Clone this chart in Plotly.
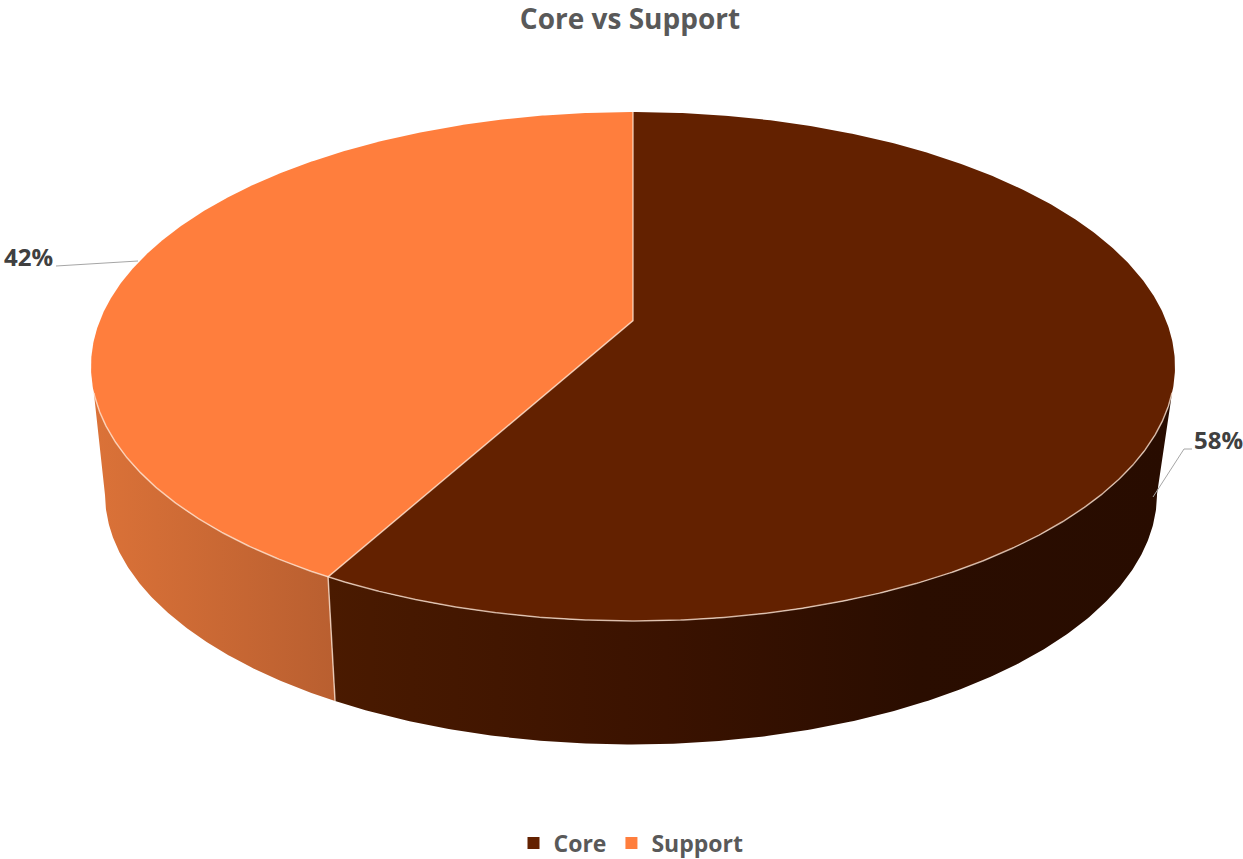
import numpy as np
import plotly.graph_objects as go

categories = ["Core", "Support"]
values = [58, 42]
chart_title = "Core vs Support"

W, H = 1243, 859
BOTTOM_BAND = 60  # strip under the plot area that holds the legend
FONT = "Open Sans"
TOP = dict(cx=633.0, cy=366.5, rx=542.0, ry=254.5)
BOT = dict(cx=631.0, cy=494.0, rx=526.0, ry=250.5)
APEX = -0.18  # perspective shift of the pie centre on the top face
TOP_CUT, BOT_CUT = 0.10, 0.0  # where the wall silhouette leaves each ellipse

FACE = {"Core": "#632100", "Support": "#FF7E3D"}
WALL = {
    "Core": [[0, "#4A1A00"], [0.4, "#3A1200"], [0.7, "#2A0D00"], [1, "#280C00"]],
    "Support": [[0, "#DB7238"], [1, "#B95F30"]],
}
EDGE = "rgba(255,232,215,0.72)"


def project(theta, e):
    """Angle round the pie (clockwise from the top) to a point on an ellipse."""
    u, v = np.sin(theta), -np.cos(theta)
    d = 1 + APEX * v
    xn = u * np.sqrt(1 - APEX**2) / d
    yn = (v + APEX) / d
    return e["cx"] + xn * e["rx"], e["cy"] + yn * e["ry"], yn


shares = np.array(values, dtype=float) / sum(values)
cuts = np.concatenate([[0], np.cumsum(shares)]) * 2 * np.pi
centre_x, centre_y = TOP["cx"], TOP["cy"] + APEX * TOP["ry"]

fig = go.Figure()

for i, name in enumerate(categories):
    th = np.linspace(cuts[i], cuts[i + 1], 500)
    tx, ty, tn = project(th, TOP)
    bx, by, bn = project(th, BOT)
    tm, bm = tn >= TOP_CUT, bn >= BOT_CUT
    wx = np.concatenate([tx[tm], bx[bm][::-1]])
    wy = np.concatenate([ty[tm], by[bm][::-1]])
    fig.add_trace(go.Scatter(
        x=wx, y=wy, mode="lines", fill="toself", line=dict(width=0),
        fillgradient=dict(type="horizontal", colorscale=WALL[name],
                          start=float(wx.min()), stop=float(wx.max())),
        hoverinfo="skip", showlegend=False))

for i, name in enumerate(categories):
    th = np.linspace(cuts[i], cuts[i + 1], 500)
    tx, ty, _ = project(th, TOP)
    fig.add_trace(go.Scatter(
        x=np.concatenate([[centre_x], tx, [centre_x]]),
        y=np.concatenate([[centre_y], ty, [centre_y]]),
        mode="lines", fill="toself", fillcolor=FACE[name], line=dict(width=0),
        name=name, text=f"{name}: {values[i]}%", hoverinfo="text", showlegend=False))

# light edges: front rim, the radial seam and the wall seam
th = np.linspace(0, 2 * np.pi, 1500)
tx, ty, tn = project(th, TOP)
rim = tn >= TOP_CUT
tx, ty = np.where(rim, tx, np.nan), np.where(rim, ty, np.nan)
fig.add_trace(go.Scatter(x=tx, y=ty, mode="lines", line=dict(color=EDGE, width=1.5),
                         hoverinfo="skip", showlegend=False))
sx, sy, _ = project(cuts[1], TOP)
ex, ey, _ = project(cuts[1], BOT)
nx, ny, _ = project(0.0, TOP)
fig.add_trace(go.Scatter(x=[nx, centre_x, sx, ex], y=[ny, centre_y, sy, ey], mode="lines",
                         line=dict(color=EDGE, width=1.5), hoverinfo="skip", showlegend=False))

# legend entries
for name in categories:
    fig.add_trace(go.Scatter(x=[None], y=[None], mode="markers", name=f"<b>{name}</b>",
                             marker=dict(symbol="square", size=12, color=FACE[name])))

# leader lines for the data labels
fig.add_trace(go.Scatter(x=[56, 138], y=[266, 261], mode="lines",
                         line=dict(color="#A6A6A6", width=1), hoverinfo="skip", showlegend=False))
fig.add_trace(go.Scatter(x=[1153, 1184, 1192], y=[497, 449, 449], mode="lines",
                         line=dict(color="#A6A6A6", width=1), hoverinfo="skip", showlegend=False))

labels = [f"{round(s * 100)}%" for s in shares]
fig.add_annotation(x=1218, y=439, text=f"<b>{labels[0]}</b>", showarrow=False,
                   font=dict(family=FONT, size=24, color="#404040"))
fig.add_annotation(x=28, y=256, text=f"<b>{labels[1]}</b>", showarrow=False,
                   font=dict(family=FONT, size=24, color="#404040"))

fig.update_layout(
    width=W, height=H, autosize=False,
    margin=dict(l=0, r=0, t=0, b=BOTTOM_BAND),
    paper_bgcolor="white", plot_bgcolor="white",
    title=dict(text=f"<b>{chart_title}</b>", x=630 / W, xanchor="center",
               y=1 - 19 / H, yanchor="middle",
               font=dict(family=FONT, size=28, color="#595959")),
    xaxis=dict(range=[0, W], visible=False, fixedrange=True),
    yaxis=dict(range=[H - BOTTOM_BAND, 0], visible=False, fixedrange=True),
    legend=dict(orientation="h", xref="container", yref="container",
                x=631 / W, xanchor="center", y=1 - 843 / H, yanchor="middle",
                font=dict(family=FONT, size=23, color="#595959"),
                itemclick=False, itemdoubleclick=False),
)

fig.write_html("out.html", config={"displayModeBar": False},
               post_script="document.body.style.margin='0';")
